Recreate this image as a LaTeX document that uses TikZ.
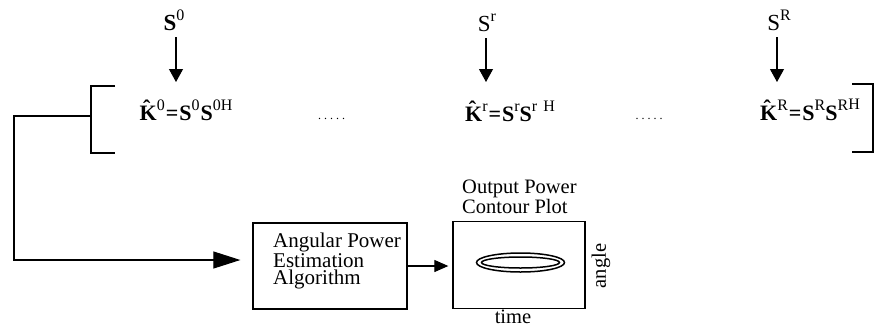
\documentclass[tikz,border=0pt]{standalone}
\usepackage{fontspec}
\setmainfont{Liberation Serif}
\usetikzlibrary{arrows.meta}
\newcommand{\sx}[1]{\raisebox{0.42em}{\fontsize{16}{16}\selectfont\mdseries #1}}
\newcommand{\bS}{\textbf{S}}
\newcommand{\bK}{\textbf{\ooalign{K\cr\hidewidth\raisebox{0.2em}{\char"02C6}\hspace{0.12em}\hidewidth\cr}}}
\begin{document}
\begin{tikzpicture}[x=1pt,y=-1pt,
  every node/.style={font=\fontsize{20.5}{17.5}\selectfont},
  formula/.style={anchor=base, inner sep=2pt, font=\fontsize{22}{24}\selectfont\bfseries},
  slabel/.style={anchor=base, inner sep=2pt, font=\fontsize{23}{24}\selectfont},
  topar/.style={line width=1.1pt, -{Triangle[length=13pt,width=14pt]}},
  bigar/.style={line width=1.1pt, -{Triangle[length=27pt,width=17pt]}},
  midar/.style={line width=1.1pt, -{Triangle[length=14pt,width=12pt]}},
  box/.style={draw, line width=1.3pt, inner sep=0pt},
  brk/.style={line width=1.2pt},
  dotsn/.style={anchor=base, inner sep=0pt, font=\fontsize{12}{12}\selectfont}
]
\useasboundingbox (0,0) rectangle (875,327);

% top S labels
\node[slabel] (s0) at (174,30) {\bS\sx{0}};
\node[slabel] (sr) at (487,31) {S\sx{r}};
\node[slabel] (sR) at (779,30) {S\sx{R}};

% formulas
\node[formula] (k0) at (186,120) {\bK\sx{0}\hspace{1pt}=\hspace{1pt}\bS\sx{0}\hspace{1pt}\bS\sx{0H}};
\node[formula] (kr) at (510,121) {\bK\sx{r}\hspace{1pt}=\hspace{1pt}\bS\sx{r}\bS\sx{r\hspace{6pt}H}};
\node[formula] (kR) at (810,120) {\bK\sx{R}\hspace{1pt}=\hspace{1pt}\bS\sx{R}\bS\sx{R\raisebox{1pt}{H}}};

% dots
\node[dotsn] (d1) at (331.5,119) {.\hspace{3pt}.\hspace{3pt}.\hspace{3pt}.\hspace{3pt}.};
\node[dotsn] (d2) at (649,119) {.\hspace{3pt}.\hspace{3pt}.\hspace{3pt}.\hspace{3pt}.};

% top arrows
\draw[topar] (176,37) coordinate (a0) -- (a0 |- 0,82) coordinate (b0);
\draw[topar] (486,38) coordinate (ar) -- (ar |- 0,82) coordinate (br);
\draw[topar] (777,37) coordinate (aR) -- (aR |- 0,82) coordinate (bR);

% brackets
\draw[brk] (115,86) -- (91,86) -- (91,153) -- (115,153);
\draw[brk] (852,84) -- (873,84) -- (873,152) -- (852,152);
\coordinate (fb) at (91,116);

% boxes
\node[box, minimum width=154pt, minimum height=86pt] (alg) at (330,266) {};
\node[anchor=north west, inner sep=0pt, align=left, font=\fontsize{21}{17.5}\selectfont] (algtxt) at (273,233)
  {Angular Power\\Estimation\\Algorithm};
\node[box, minimum width=132pt, minimum height=87pt] (plot) at (519,265) {};
\node[anchor=north west, inner sep=0pt, align=left] (ptitle) at (462,180)
  {Output Power\\Contour Plot};
\node[inner sep=0pt] (time) at (513,317) {time};
\node[inner sep=0pt, rotate=90] (angle) at (601,266) {angle};

% ellipses
\draw[line width=1.5pt] ([shift={(1.5,-2.5)}]plot.center) ellipse [x radius=44pt, y radius=9.5pt];
\draw[line width=1.5pt] ([shift={(1.5,-2.5)}]plot.center) ellipse [x radius=39pt, y radius=5.5pt];

% connectors
\draw[bigar, shorten >=12pt] (fb) -- (14,116) |- ([yshift=6pt]alg.west);
\draw[midar, shorten >=4pt] (alg.east) -- (alg.east -| plot.west);
\end{tikzpicture}
\end{document}
